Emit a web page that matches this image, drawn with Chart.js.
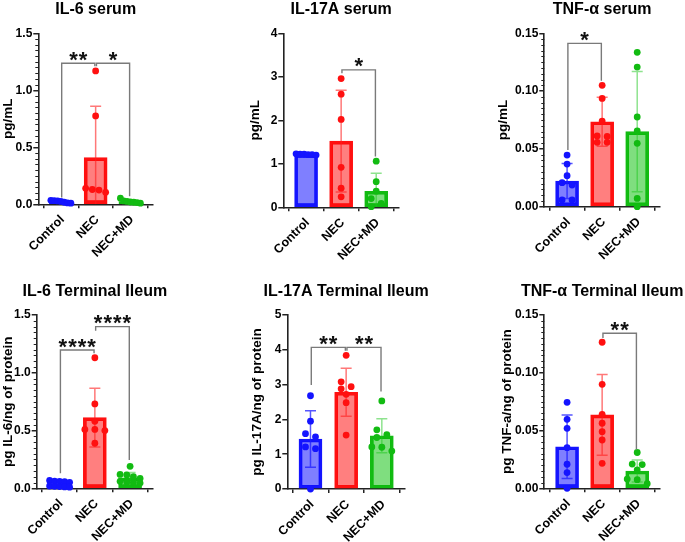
<!DOCTYPE html>
<html><head><meta charset="utf-8">
<script src="https://cdn.jsdelivr.net/npm/chart.js@4.4.1/dist/chart.umd.min.js"></script>
<style>
html,body{margin:0;padding:0;background:#fff;}
#wrap{position:relative;width:685px;height:542px;overflow:hidden;background:#fff;}
#wrap canvas{position:absolute;}
</style></head><body><div id="wrap"></div>
<script>
// ---------------- data ----------------
const groups = ['Control', 'NEC', 'NEC+MD'];
const titles = ['IL-6 serum', 'IL-17A serum', 'TNF-α serum', 'IL-6 Terminal Ileum', 'IL-17A Terminal Ileum', 'TNF-α Terminal Ileum'];
const yTitles = ['pg/mL', 'pg/mL', 'pg/mL', 'pg IL-6/ng of protein', 'pg IL-17A/ng of protein', 'pg TNF-a/ng of protein'];

// IL-6 serum
const il6SerumTicks = [0, 0.5, 1.0, 1.5];
const il6SerumMean = [0.023, 0.41, 0.024];
const il6SerumSD = [0.01, 0.45, 0.014];
const il6SerumControl = [0.035, 0.032, 0.03, 0.025, 0.018, 0.012, 0.01];
const il6SerumNEC = [1.17, 0.775, 0.14, 0.13, 0.125, 0.105];
const il6SerumMD = [0.053, 0.03, 0.025, 0.02, 0.018, 0.015, 0.01];
const il6SerumSig = [
  {from: 0, to: 1, y: 1.237, fromEnd: 0.06, toEnd: 1.21, label: '**'},
  {from: 1, to: 2, y: 1.237, fromEnd: 1.21, toEnd: 0.07, label: '*'}
];

// IL-17A serum
const il17SerumTicks = [0, 1, 2, 3, 4];
const il17SerumMean = [1.215, 1.52, 0.37];
const il17SerumSD = [0.012, 1.17, 0.41];
const il17SerumControl = [1.23, 1.22, 1.22, 1.21, 1.21, 1.2];
const il17SerumNEC = [2.96, 2.6, 2.02, 0.92, 0.44, 0.24];
const il17SerumMD = [1.06, 0.59, 0.37, 0.2, 0.09, 0.015];
const il17SerumSig = [
  {from: 1, to: 2, y: 3.16, fromEnd: 3.08, toEnd: 1.17, label: '*'}
];

// TNF-alpha serum
const tnfSerumTicks = [0, 0.05, 0.10, 0.15];
const tnfSerumMean = [0.0222, 0.0735, 0.0649];
const tnfSerumSD = [0.0152, 0.0211, 0.052];
const tnfSerumControl = [0.0447, 0.0369, 0.0268, 0.0208, 0.0187, 0.0058, 0.0058];
const tnfSerumNEC = [0.105, 0.0937, 0.0741, 0.0612, 0.0608, 0.0557, 0.0557];
const tnfSerumMD = [0.1335, 0.1208, 0.0776, 0.0655, 0.0548, 0.0072, 0.0];
const tnfSerumSig = [
  {from: 0, to: 1, y: 0.1413, fromEnd: 0.049, toEnd: 0.109, label: '*'}
];

// IL-6 terminal ileum
const il6IleumTicks = [0, 0.5, 1.0, 1.5];
const il6IleumMean = [0.037, 0.612, 0.09];
const il6IleumSD = [0.022, 0.254, 0.046];
const il6IleumControl = [0.068, 0.062, 0.06, 0.057, 0.052, 0.02, 0.017, 0.015, 0.012, 0.01];
const il6IleumNEC = [1.13, 0.73, 0.58, 0.51, 0.51, 0.5, 0.39];
const il6IleumMD = [0.19, 0.12, 0.115, 0.1, 0.085, 0.06, 0.055, 0.05, 0.045];
const il6IleumSig = [
  {from: 0, to: 1, y: 1.197, fromEnd: 0.13, toEnd: 1.168, label: '****'},
  {from: 1, to: 2, y: 1.399, fromEnd: 1.364, toEnd: 0.245, label: '****'}
];

// IL-17A terminal ileum
const il17IleumTicks = [0, 1, 2, 3, 4, 5];
const il17IleumMean = [1.437, 2.78, 1.53];
const il17IleumSD = [0.815, 0.69, 0.49];
const il17IleumControl = [2.68, 1.95, 1.59, 1.5, 1.21, 1.16, 0.0];
const il17IleumNEC = [3.84, 3.08, 2.94, 2.88, 2.72, 2.48, 1.55];
const il17IleumMD = [2.53, 1.7, 1.56, 1.48, 1.21, 1.2, 1.09];
const il17IleumSig = [
  {from: 0, to: 1, y: 4.07, fromEnd: 2.99, toEnd: 3.97, label: '**'},
  {from: 1, to: 2, y: 4.07, fromEnd: 3.97, toEnd: 2.8, label: '**'}
];

// TNF-alpha terminal ileum
const tnfIleumTicks = [0, 0.05, 0.10, 0.15];
const tnfIleumMean = [0.036, 0.0635, 0.015];
const tnfIleumSD = [0.0275, 0.035, 0.0095];
const tnfIleumControl = [0.0744, 0.0597, 0.0519, 0.0352, 0.0208, 0.0136, 0.0];
const tnfIleumNEC = [0.1264, 0.09, 0.064, 0.0563, 0.049, 0.0418, 0.0216];
const tnfIleumMD = [0.031, 0.021, 0.0205, 0.016, 0.008, 0.0075, 0.004];
const tnfIleumSig = [
  {from: 1, to: 2, y: 0.1342, fromEnd: 0.13, toEnd: 0.0335, label: '**'}
];

// ---------------- styling / layout ----------------
const FONT = "'Liberation Sans', Arial, Helvetica, sans-serif";
Chart.defaults.font.family = FONT;
Chart.defaults.color = '#000';
const fills = ['rgba(0,0,255,0.5)', 'rgba(255,0,0,0.5)', 'rgba(0,190,0,0.5)'];
const edges = ['#1414ff', '#ff1010', '#12bb12'];
const errCols = ['rgba(30,30,255,0.75)', 'rgba(255,30,30,0.6)', 'rgba(30,200,30,0.5)'];
const AXIS = '#222';
const YT_SIZE = 13.5;

const panels = [
  {title: titles[0], yTitle: yTitles[0], ticks: il6SerumTicks, dec: 1, minor: 0.05, mean: il6SerumMean, sd: il6SerumSD,
   pts: [il6SerumControl, il6SerumNEC, il6SerumMD], sig: il6SerumSig,
   box: {l: 0, t: 0, w: 228, h: 270}, area: {L: 38.3, R: 153, T: 33.3, B: 204.3}, titleBase: 13.5, yTitleX: 7},
  {title: titles[1], yTitle: yTitles[1], ticks: il17SerumTicks, dec: 0, minor: 0, mean: il17SerumMean, sd: il17SerumSD,
   pts: [il17SerumControl, il17SerumNEC, il17SerumMD], sig: il17SerumSig,
   box: {l: 228, t: 0, w: 228, h: 270}, area: {L: 283.3, R: 399, T: 33.3, B: 207.3}, titleBase: 13.5, yTitleX: 255},
  {title: titles[2], yTitle: yTitles[2], ticks: tnfSerumTicks, dec: 2, minor: 0.005, mean: tnfSerumMean, sd: tnfSerumSD,
   pts: [tnfSerumControl, tnfSerumNEC, tnfSerumMD], sig: tnfSerumSig,
   box: {l: 456, t: 0, w: 229, h: 270}, area: {L: 544.3, R: 660, T: 33.3, B: 206.7}, titleBase: 13.5, yTitleX: 503.4},
  {title: titles[3], yTitle: yTitles[3], ticks: il6IleumTicks, dec: 1, minor: 0.05, mean: il6IleumMean, sd: il6IleumSD,
   pts: [il6IleumControl, il6IleumNEC, il6IleumMD], sig: il6IleumSig,
   box: {l: 0, t: 272, w: 228, h: 270}, area: {L: 36.7, R: 153, T: 315, B: 488.3}, titleBase: 296, yTitleX: 6.5},
  {title: titles[4], yTitle: yTitles[4], ticks: il17IleumTicks, dec: 0, minor: 0, mean: il17IleumMean, sd: il17IleumSD,
   pts: [il17IleumControl, il17IleumNEC, il17IleumMD], sig: il17IleumSig,
   box: {l: 228, t: 272, w: 228, h: 270}, area: {L: 287.3, R: 405, T: 315, B: 489}, titleBase: 296, yTitleX: 257.6},
  {title: titles[5], yTitle: yTitles[5], ticks: tnfIleumTicks, dec: 2, minor: 0.005, mean: tnfIleumMean, sd: tnfIleumSD,
   pts: [tnfIleumControl, tnfIleumNEC, tnfIleumMD], sig: tnfIleumSig,
   box: {l: 456, t: 272, w: 229, h: 270}, area: {L: 544.3, R: 660, T: 315, B: 488.3}, titleBase: 296, yTitleX: 507.6}
];

// ---------------- plugins ----------------
const titlePlugin = {
  id: 'panelTitle',
  afterDraw(chart, args, opts) {
    if (!opts.text) return;
    const {ctx, chartArea: ca} = chart;
    ctx.save();
    ctx.font = 'bold 16px ' + FONT;
    ctx.fillStyle = '#000';
    ctx.textAlign = 'center';
    ctx.textBaseline = 'alphabetic';
    ctx.fillText(opts.text, (ca.left + ca.right) / 2, opts.baseline);
    ctx.restore();
  }
};

const errPlugin = {
  id: 'errbars',
  afterDatasetDraw(chart, args, opts) {
    if (args.index !== 0 || !opts.mean) return;
    const {ctx, chartArea: ca, scales: {x, y}} = chart;
    ctx.save();
    ctx.beginPath();
    ctx.rect(ca.left, ca.top - 30, ca.width, ca.height + 30);
    ctx.clip();
    ctx.lineWidth = 1.5;
    opts.mean.forEach((m, i) => {
      const px = x.getPixelForValue(i);
      const top = y.getPixelForValue(m + opts.sd[i]);
      const lowV = m - opts.sd[i];
      const bot = y.getPixelForValue(Math.max(lowV, 0));
      ctx.strokeStyle = errCols[i];
      ctx.beginPath();
      ctx.moveTo(px, top); ctx.lineTo(px, bot);
      ctx.moveTo(px - 5.5, top); ctx.lineTo(px + 5.5, top);
      if (lowV > 0) { ctx.moveTo(px - 5.5, bot); ctx.lineTo(px + 5.5, bot); }
      ctx.stroke();
    });
    ctx.restore();
  }
};

const sigPlugin = {
  id: 'sig',
  afterDatasetsDraw(chart, args, opts) {
    if (!opts.pairs) return;
    const {ctx, scales: {x, y}} = chart;
    ctx.save();
    ctx.strokeStyle = '#7a7a7a';
    ctx.lineWidth = 1.4;
    for (const s of opts.pairs) {
      const xa = x.getPixelForValue(s.from) + 0.8;
      const xb = x.getPixelForValue(s.to) - 0.8;
      const yb = y.getPixelForValue(s.y);
      ctx.beginPath();
      ctx.moveTo(xa, y.getPixelForValue(s.fromEnd));
      ctx.lineTo(xa, yb);
      ctx.lineTo(xb, yb);
      ctx.lineTo(xb, y.getPixelForValue(s.toEnd));
      ctx.stroke();
      ctx.fillStyle = '#111';
      ctx.font = 'bold 22px ' + FONT;
      try { ctx.letterSpacing = '1px'; } catch (e) {}
      ctx.textAlign = 'center';
      ctx.textBaseline = 'alphabetic';
      ctx.fillText(s.label, (xa + xb) / 2 + 0.5, yb + 3.5);
      try { ctx.letterSpacing = '0px'; } catch (e) {}
    }
    ctx.restore();
  }
};

const minorPlugin = {
  id: 'minorTicks',
  beforeDatasetsDraw(chart, args, opts) {
    if (!opts.step) return;
    const {ctx, chartArea: ca, scales: {y}} = chart;
    const n = Math.round(y.max / opts.step);
    const per = Math.round(opts.major / opts.step);
    ctx.save();
    ctx.strokeStyle = AXIS;
    ctx.lineWidth = 1;
    ctx.beginPath();
    for (let k = 1; k < n; k++) {
      if (k % per === 0) continue;
      const py = Math.round(y.getPixelForValue(k * opts.step)) + 0.5;
      ctx.moveTo(ca.left - 3, py);
      ctx.lineTo(ca.left, py);
    }
    ctx.stroke();
    ctx.restore();
  }
};

// ---------------- beeswarm placement of points (pixel space via scales) ----------------
function swarm(chart, vals, center) {
  const xs = chart.scales.x, ys = chart.scales.y;
  const pxPerX = xs.getPixelForValue(1) - xs.getPixelForValue(0);
  const items = vals.map((v, k) => ({v, k, py: ys.getPixelForValue(v)})).sort((a, b) => a.py - b.py);
  const rows = [];
  for (const p of items) {
    const row = rows[rows.length - 1];
    if (row && p.py - row[0].py < 5.5) row.push(p); else rows.push([p]);
  }
  const placed = [];
  for (const row of rows) {
    if (row.length > 1) {
      const s = Math.min(10, 20 / (row.length - 1));
      row.forEach((p, j) => { p.dx = (j - (row.length - 1) / 2) * s; placed.push(p); });
    } else {
      const p = row[0];
      p.dx = 0;
      for (const c of [0, 5, -5, 10, -10]) {
        if (placed.every(q => Math.hypot(q.dx - c, q.py - p.py) >= 6.5)) { p.dx = c; break; }
      }
      placed.push(p);
    }
  }
  const out = new Array(vals.length);
  for (const p of items) out[p.k] = {x: center + p.dx / pxPerX, y: p.v};
  return out;
}

// ---------------- build charts ----------------
const wrap = document.getElementById('wrap');
panels.forEach(p => {
  const c = document.createElement('canvas');
  c.width = p.box.w; c.height = p.box.h;
  c.style.left = p.box.l + 'px'; c.style.top = p.box.t + 'px';
  c.style.width = p.box.w + 'px'; c.style.height = p.box.h + 'px';
  wrap.appendChild(c);

  const half = YT_SIZE * 1.2 / 2;
  const padLeft = Math.max(0, p.yTitleX - half - p.box.l);
  const yWidth = p.area.L - p.box.l - padLeft;
  const padRight = p.box.l + p.box.w - p.area.R;
  const xHeight = p.box.t + p.box.h - p.area.B;
  const padTop = p.area.T - p.box.t;
  const yMax = p.ticks[p.ticks.length - 1];
  const yStep = p.ticks[1] - p.ticks[0];

  const datasets = [{
    type: 'bar',
    data: p.mean.map((m, i) => ({x: i, y: m})),
    backgroundColor: fills, borderColor: edges, borderWidth: 3, borderSkipped: false,
    barThickness: 23, order: 2
  }];
  p.pts.forEach((arr, g) => datasets.push({
    type: 'scatter',
    data: arr.map(v => ({x: g, y: v})),
    backgroundColor: edges[g], borderWidth: 0, pointRadius: 3.4, pointHoverRadius: 3.4,
    order: 1, clip: false
  }));

  const chart = new Chart(c, {
    type: 'bar',
    data: {datasets},
    options: {
      responsive: false, animation: false, events: [],
      layout: {padding: {left: padLeft, right: padRight, top: padTop, bottom: 0}},
      plugins: {
        legend: {display: false}, tooltip: {enabled: false}, title: {display: false},
        panelTitle: {text: p.title, baseline: p.titleBase - p.box.t},
        errbars: {mean: p.mean, sd: p.sd},
        sig: {pairs: p.sig},
        minorTicks: {step: p.minor, major: yStep}
      },
      scales: {
        x: {
          type: 'linear', min: -0.65, max: 2.65, offset: false,
          afterBuildTicks: s => { s.ticks = groups.map((g, i) => ({value: i})); },
          afterFit: s => { s.height = xHeight; },
          ticks: {autoSkip: false, minRotation: 45, maxRotation: 45, padding: 4, labelOffset: 1.5,
                  callback: v => groups[v], color: '#000', font: {size: 12.5, weight: 'bold', family: FONT}},
          grid: {display: true, drawOnChartArea: false, drawTicks: true, tickLength: 4, color: AXIS, lineWidth: 1.5},
          border: {display: true, color: AXIS, width: 1.6}
        },
        y: {
          type: 'linear', min: 0, max: yMax,
          afterFit: s => { s.width = yWidth; },
          ticks: {stepSize: yStep, padding: 1, color: '#000', font: {size: 12, weight: 'bold', family: FONT},
                  callback: v => Number(v).toFixed(p.dec)},
          grid: {display: true, drawOnChartArea: false, drawTicks: true, tickLength: 5, color: AXIS, lineWidth: 1.5},
          border: {display: true, color: AXIS, width: 1.6},
          title: {display: true, text: p.yTitle, color: '#000', padding: {top: 0, bottom: 0},
                  font: {size: YT_SIZE, weight: 'bold', family: FONT, lineHeight: 1.2}}
        }
      }
    },
    plugins: [errPlugin, sigPlugin, minorPlugin, titlePlugin]
  });

  for (let g = 0; g < 3; g++) chart.data.datasets[g + 1].data = swarm(chart, p.pts[g], g);
  chart.update('none');
});
</script></body></html>
